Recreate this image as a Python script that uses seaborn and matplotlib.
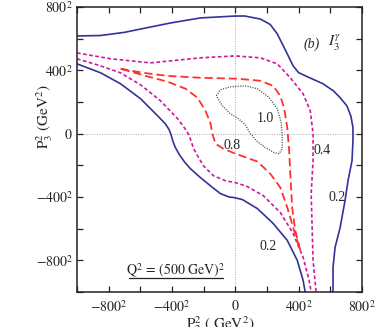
import numpy as np
import pandas as pd
import matplotlib
matplotlib.use("Agg")
import matplotlib.pyplot as plt
import seaborn as sns

# ---- data (axis units: sign(p^2)*sqrt(|p^2|) in GeV) ----
ticks_major = [-800, -400, 0, 400, 800]
tick_labels = [r"$-800^2$", r"$-400^2$", r"$0$", r"$400^2$", r"$800^2$"]

# contour 0.2 (solid navy), outer branch
c02a_x = [-1000, -850, -700, -598, -410, -220, 0, 60, 158, 220, 265, 300, 328, 365, 400, 454, 554, 620, 662, 705, 730, 743, 743, 737, 712, 693, 662, 630, 617, 617]
c02a_y = [617, 620, 640, 661, 699, 731, 743, 743, 724, 690, 630, 560, 504, 428, 385, 360, 315, 270, 227, 175, 110, 38, -44, -170, -296, -422, -592, -718, -844, -1000]
# contour 0.2, inner branch
c02b_x = [-1000, -850, -725, -599, -491, -440, -418, -405, -395, -380, -355, -320, -284, -221, -150, -95, -40, -5, 44, 139, 239, 328, 391, 428, 441]
c02b_y = [441, 384, 315, 221, 113, 60, 25, -10, -45, -85, -130, -180, -221, -277, -335, -378, -400, -404, -416, -473, -567, -674, -800, -926, -1000]
# contour 0.4 (magenta dashed), outer branch
c04a_x = [-1000, -788, -536, -221, 0, 158, 265, 347, 428, 473, 491, 491, 479, 485, 491, 510]
c04a_y = [510, 473, 447, 479, 491, 479, 441, 353, 252, 145, 0, -170, -378, -592, -800, -1000]
# contour 0.4, inner branch
c04b_x = [-1000, -850, -725, -599, -473, -365, -320, -295, -280, -265, -239, -202, -139, -60, 0, 76, 176, 284, 365, 428, 466, 479]
c04b_y = [473, 428, 384, 309, 208, 95, 35, -5, -45, -90, -139, -202, -265, -298, -309, -334, -391, -498, -630, -781, -926, -1000]
# contour 0.8 (red dashed), closed
c08_x = [-725, -580, -428, -221, 13, 158, 239, 284, 309, 328, 340, 347, 359, 378, 410,
         365, 328, 284, 220, 139, 0, -76, -126, -145, -158, -189, -239, -315, -428, -567, -725]
c08_y = [410, 384, 365, 353, 347, 334, 302, 239, 158, 38, -107, -252, -466, -611, -737,
         -592, -466, -340, -252, -176, -126, -95, -63, 0, 69, 145, 227, 284, 328, 365, 410]
# contour 1.0 (grey dotted), closed
c10_x = [-120, -95, -32, 63, 139, 208, 265, 290, 296, 296, 277, 246, 189, 139, 95, 63, 19, -32, -82, -120]
c10_y = [239, 277, 296, 302, 284, 233, 158, 69, -13, -95, -126, -120, -88, -50, 0, 57, 95, 126, 176, 239]

contour_labels = ["1.0", "0.8", "0.4", "0.2", "0.2"]
label_x = [189, -19, 548, 643, 208]
label_y = [95, -76, -107, -403, -712]

# ---- figure ----
sns.set_style("ticks")
plt.rcParams["font.family"] = ["Liberation Serif", "DejaVu Serif"]
plt.rcParams["mathtext.fontset"] = "stix"

fig = plt.figure(figsize=(3.82, 3.27), dpi=100)
ax = fig.add_axes([77/382, 1-292/327, 285/382, 285/327])

navy = "#333399"
magenta = "#d0189a"
red = "#ff3030"
grey = "#555555"

def draw(xs, ys, **kw):
    df = pd.DataFrame({"x": xs, "y": ys})
    sns.lineplot(data=df, x="x", y="y", sort=False, estimator=None, ax=ax, **kw)

draw(c02a_x, c02a_y, color=navy, lw=1.2)
draw(c02b_x, c02b_y, color=navy, lw=1.2)
draw(c04a_x, c04a_y, color=magenta, lw=1.2, dashes=(2.2, 1.5))
draw(c04b_x, c04b_y, color=magenta, lw=1.2, dashes=(2.2, 1.5))
draw(c08_x, c08_y, color=red, lw=1.3, dashes=(4.5, 2.2))
draw(c10_x, c10_y, color=grey, lw=1.0, dashes=(0.8, 1.0))

ax.axhline(0, color="#aaaaaa", lw=0.7, ls=(0, (1, 1.5)), zorder=0)
ax.axvline(0, color="#aaaaaa", lw=0.7, ls=(0, (1, 1.5)), zorder=0)

ax.set_xlim(-1000, 800)
ax.set_ylim(-1000, 800)
minor = np.arange(-1000, 801, 200)
ax.set_xticks(minor, minor=True)
ax.set_yticks(minor, minor=True)
ax.set_xticks(ticks_major)
ax.set_yticks(ticks_major)
ax.set_xticklabels(tick_labels, fontsize=10)
ax.set_yticklabels(tick_labels, fontsize=10)
ax.tick_params(which="both", direction="in", length=4, width=0.9, top=True, right=True, color="#222222")
ax.tick_params(axis="x", pad=5)
ax.tick_params(axis="y", pad=3)
for s in ax.spines.values():
    s.set_linewidth(1.1)
    s.set_color("#222222")
ax.set_xlabel("")
ax.set_ylabel("")

for t, x, y in zip(contour_labels, label_x, label_y):
    ax.text(x, y, t, fontsize=10, ha="center", va="center")

ax.text(485, 567, "(b)", fontsize=10, style="italic", ha="center", va="center")
ax.text(625, 572, r"$I_3^{\gamma}$", fontsize=11, ha="center", va="center")
ax.text(-378, -868, r"$\mathrm{Q}^2\,=\,(500\ \mathrm{GeV})^2$", fontsize=10, ha="center", va="center")
ax.plot([-674, -76], [-913, -913], color="#222222", lw=0.9)

fig.text(45/382, 1-117/327, r"$\mathrm{P}_3^2\ (\mathrm{GeV}^2)$", rotation=90, fontsize=11, ha="center", va="center")
fig.text(220/382, 1-325/327, r"$\mathrm{P}_2^2\ (\ \mathrm{GeV}^2)$", fontsize=11, ha="center", va="center")

fig.savefig("out.png", dpi=100)
